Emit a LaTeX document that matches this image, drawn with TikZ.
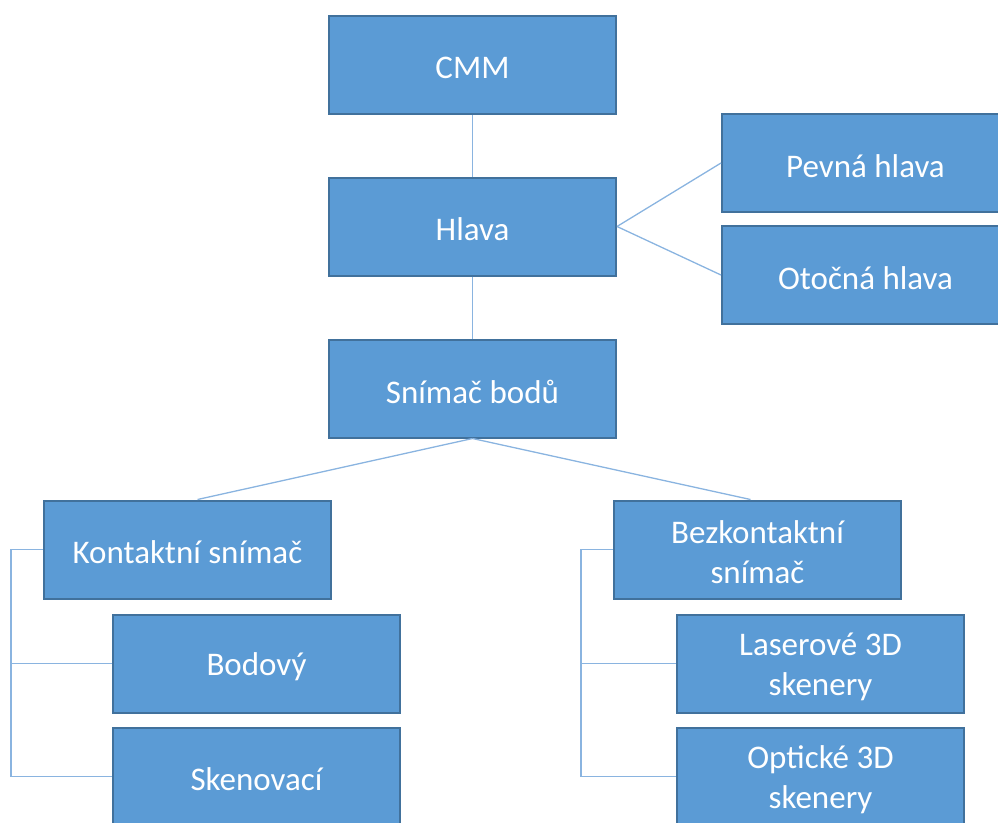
\documentclass[tikz,border=0pt]{standalone}
\usepackage{fontspec}
\setmainfont{Carlito}
\definecolor{boxfill}{HTML}{5B9BD5}
\definecolor{boxline}{HTML}{41719C}
\definecolor{conn}{HTML}{8AB4E0}
\begin{document}
\begin{tikzpicture}[x=1pt,y=-1pt,
  box/.style={draw=boxline, line width=2pt, fill=boxfill,
    minimum width=287pt, minimum height=98pt, inner sep=0pt,
    label={[text=white, align=center, inner sep=0pt, yshift=-3pt,
      font=\fontsize{33}{40}\selectfont]center:#1}},
  link/.style={draw=conn, line width=1.3pt}]
\useasboundingbox (0,0) rectangle (998,822);
\clip (0,0) rectangle (998,822);
\node[box={CMM}] (cmm) at (472.5,65) {};
\node[box={Hlava}] (hlava) at (472.5,226.5) {};
\node[box={Snímač bodů}] (snimac) at (472.5,388.5) {};
\node[box={Pevná hlava}] (pevna) at (865.5,163) {};
\node[box={Otočná hlava}] (otocna) at (865.5,275) {};
\node[box={Kontaktní snímač}] (kont) at (187.5,549.5) {};
\node[box={Bodový}] (bod) at (256.5,663.5) {};
\node[box={Skenovací}] (sken) at (256.5,776.5) {};
\node[box={{Bezkontaktní\\snímač}}] (bez) at (757.5,549.5) {};
\node[box={{Laserové 3D\\skenery}}] (laser) at (820.5,663.5) {};
\node[box={{Optické 3D\\skenery}}] (opt) at (820.5,776.5) {};
\draw[link] (cmm.south) -- (hlava.north);
\draw[link] (hlava.south) -- (snimac.north);
\draw[link] (hlava.east) -- (pevna.west);
\draw[link] (hlava.east) -- (otocna.west);
\draw[link] (snimac.south) -- ([xshift=10pt]kont.north);
\draw[link] (snimac.south) -- ([xshift=-7pt]bez.north);
\coordinate (kt) at ([xshift=-32pt]kont.west);
\coordinate (bt) at ([xshift=-32pt]bez.west);
\draw[link] (kont.west) -- (kt) |- (sken.west);
\draw[link] (kt) |- (bod.west);
\draw[link] (bez.west) -- (bt) |- (opt.west);
\draw[link] (bt) |- (laser.west);
\end{tikzpicture}
\end{document}
